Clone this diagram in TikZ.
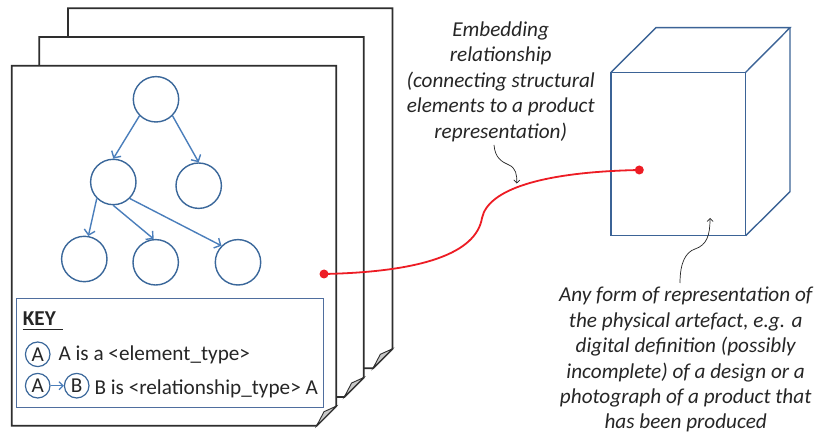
\documentclass[tikz,border=0pt]{standalone}
\usepackage{fontspec}
\setmainfont{Carlito}
\usetikzlibrary{arrows.meta}
\definecolor{circc}{HTML}{3A679A}
\definecolor{arrc}{HTML}{4A7EBB}
\definecolor{keyc}{HTML}{4F6E9E}
\definecolor{pagec}{HTML}{2E2E2E}
\definecolor{foldc}{HTML}{C8C8C8}
\definecolor{txtc}{HTML}{262626}
\definecolor{redc}{HTML}{ED1C24}
\definecolor{cubec}{HTML}{3B6396}
\tikzset{
  docpage/.pic={
    \fill[white] (0,0) -- (324.5,0) -- (324.5,340.5) -- (305,360) -- (0,360) -- cycle;
    \draw[pagec, line width=1.7pt, line join=miter] (0,0) -- (324.5,0) -- (324.5,340.5) -- (305,360) -- (0,360) -- cycle;
    \filldraw[fill=foldc, draw=pagec, line width=0.9pt] (305,360) -- (324.5,340.5) -- (312.3,346) -- cycle;
  },
  tnode/.style={circle, draw=circc, line width=1.4pt, minimum size=45.4pt, inner sep=0pt},
  knode/.style={circle, draw=circc, line width=1.2pt, minimum size=24.6pt, inner sep=0pt, font=\fontsize{21.2}{25}\selectfont, text=txtc},
  tarrow/.style={arrc, line width=1.4pt, -{Straight Barb[length=5pt,width=11pt]}},
  ktext/.style={anchor=base west, inner sep=0pt, font=\fontsize{21.2}{25}\selectfont, text=txtc},
  ann/.style={align=center, inner sep=0pt, font=\fontsize{21.2}{25.4}\selectfont\itshape, text=txtc},
  annarrow/.style={black!85, line width=0.7pt, -{Straight Barb[length=3pt,width=6pt]}},
  reddot/.style={circle, fill=redc, minimum size=9pt, inner sep=0pt},
  redline/.style={redc, line width=1.8pt},
  cubeline/.style={cubec, line width=1.4pt, line join=miter}
}
\begin{document}
\begin{tikzpicture}[x=1pt, y=-1pt]
\useasboundingbox (0,0) rectangle (818,435);
\fill[white] (0,0) rectangle (818,435);
% stacked pages
\pic at (68,8.3) {docpage};
\pic at (39.3,37) {docpage};
\pic at (11.7,65.7) {docpage};
% tree
\node[tnode] (t) at (156,99.3) {};
\node[tnode] (ml) at (113.3,182) {};
\node[tnode] (mr) at (198.7,185.7) {};
\node[tnode] (bl) at (84.3,259) {};
\node[tnode] (bm) at (155.7,262.3) {};
\node[tnode] (br) at (238,262.3) {};
\draw[tarrow] (t.225) -- (ml.north);
\draw[tarrow] (t.-45) -- (mr.north);
\draw[tarrow] (ml.225) -- (bl.80);
\draw[tarrow] (ml.south) -- (bm.95);
\draw[tarrow] (ml.-45) -- (br.135);
% key
\node[draw=keyc, line width=1.3pt, minimum width=306.7pt, minimum height=109pt, inner sep=0pt, anchor=north west] (key) at (16,297.7) {};
\node[ktext, font=\fontsize{21.2}{25}\selectfont\bfseries] (keyt) at (22.7,325) {KEY};
\draw[txtc, line width=1.2pt] (22.7,329.5) -- (63.3,329.5);
\node[knode] (ka1) at (37.7,354.3) {A};
\node[ktext] (kt1) at (58.3,360) {A is a <element\_type>};
\node[knode] (ka2) at (37.7,385.7) {A};
\node[knode] (kb2) at (76.7,385.7) {B};
\draw[tarrow, line width=1.2pt, -{Straight Barb[length=4pt,width=8pt]}] (ka2) -- (kb2);
\node[ktext] (kt2) at (94.3,394) {B is <relationship\_type> A};
% cube
\draw[cubeline] (611,72.3) rectangle (745.7,235.7);
\draw[cubeline] (611,72.3) -- (656,27.7) -- (790,27.7) -- (745.7,72.3);
\draw[cubeline] (790,27.7) -- (790,191.7) -- (745.7,235.7);
% red embedding connector
\node[reddot] (d1) at (324,274) {};
\node[reddot] (d2) at (639.3,170) {};
\coordinate (rm) at (482,218);
\draw[redline] (d1.center) .. controls (420,272) and (476,254) .. (rm) .. controls (488,190) and (540,172) .. (d2.center);
% annotations
\node[ann, anchor=north] (emb) at (500.7,21.5) {Embedding\\relationship\\(connecting structural\\elements to a product\\representation)};
\coordinate (e1) at (494,145);
\coordinate (e2) at (516.7,183.5);
\draw[annarrow] (e1) .. controls (495,158) and (502,162) .. (509,165) .. controls (516,168) and (517,175) .. (e2);
\node[ann, anchor=north] (rep) at (685.7,287) {Any form of representation of\\the physical artefact, e.g. a\\digital definition (possibly\\incomplete) of a design or a\\photograph of a product that\\has been produced};
\coordinate (r1) at (680,283);
\coordinate (r2) at (710,218);
\draw[annarrow] (r1) .. controls (680,262) and (686,252) .. (695,249) .. controls (707,245) and (710,235) .. (r2);
\end{tikzpicture}
\end{document}
